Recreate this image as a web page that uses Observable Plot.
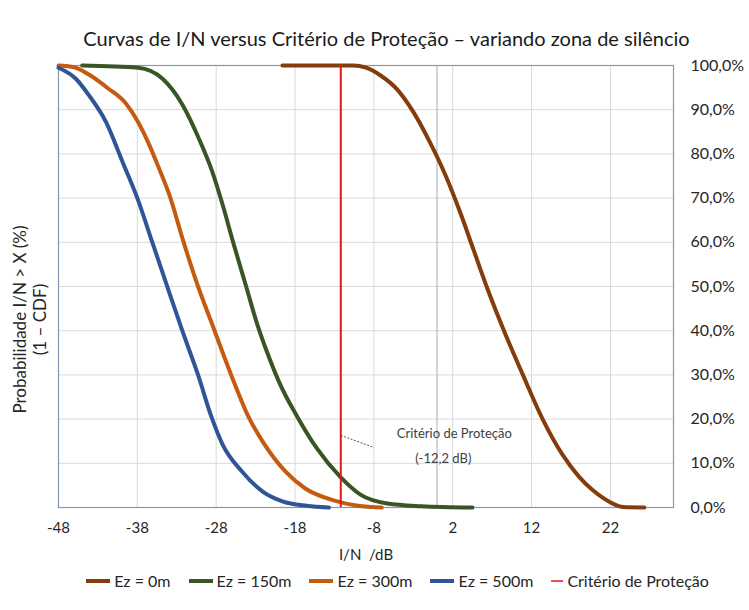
<!DOCTYPE html>
<html>
<head>
<meta charset="utf-8">
<script src="https://cdn.jsdelivr.net/npm/d3@7"></script>
<script src="https://cdn.jsdelivr.net/npm/@observablehq/plot@0.6"></script>
<style>
  body { margin: 0; background: #fff; }
  #wrap { position: relative; width: 749px; height: 610px; font-family: Lato, "Liberation Sans", sans-serif; color: #262626; }
  #title { position: absolute; left: 0; top: 26px; width: 749px; padding-left: 24px; box-sizing: border-box; text-align: center; font-size: 20px; color: #1a1a1a; white-space: nowrap; }
  #legend { position: absolute; left: 0; top: 571px; width: 749px; padding-left: 44px; box-sizing: border-box; display: flex; justify-content: center; align-items: center; gap: 16px; font-size: 16px; color: #262626; white-space: nowrap; }
  .item { display: flex; align-items: center; gap: 2px; }
  #chart { position: absolute; left: 0; top: 0; }
</style>
</head>
<body>
<div id="wrap">
  <div id="chart"></div>
  <div id="title">Curvas de I/N versus Critério de Proteção – variando zona de silêncio</div>
  <div id="legend"></div>
</div>
<script>
// Series names and colours
const seriesNames = ["Ez = 0m", "Ez = 150m", "Ez = 300m", "Ez = 500m"];
const seriesColors = ["#843c0c", "#375623", "#c55a11", "#2f5597"];

// Ez = 0m : [I/N dB, probability %]
const ez0 = [[-19.6,100],[-10.6,100],[-9.0,99.5],[-7.2,97.8],[-5.0,94.5],[-3.0,89.5],[-1.0,83],[1.0,75.5],[3.0,66.5],[4.7,58],[6.4,49.5],[8.5,40],[10.9,30],[13.4,20],[15.9,12],[18.0,7],[19.7,4],[21.2,2],[22.5,0.7],[23.6,0.1],[26.3,0]];
// Ez = 150m
const ez150 = [[-45,100],[-37.9,99.5],[-34.8,97],[-32.3,91.2],[-30.2,83.5],[-28.5,76],[-27.2,68.6],[-25.8,59.7],[-24.2,50],[-22.8,41.5],[-21.3,34],[-19.8,27.5],[-17.7,20.5],[-15.2,13.3],[-12.2,6.8],[-9.7,2.9],[-6.3,0.9],[-2,0.3],[4.5,0]];
// Ez = 300m
const ez300 = [[-48,100],[-46,99.6],[-44.2,98],[-41.7,94.8],[-39.5,91.5],[-38.0,87.5],[-36.6,82.5],[-35.2,76.5],[-33.8,70],[-32.3,61],[-30.3,50],[-28.5,41.4],[-26.1,30],[-23.9,20.5],[-22.1,14.9],[-19.2,8.1],[-16.7,4.3],[-13.1,1.6],[-10,0.4],[-7,0]];
// Ez = 500m
const ez500 = [[-48,99.5],[-45.8,97],[-44.2,93.4],[-42.0,87.3],[-39.9,78.3],[-38.0,70],[-36.1,60],[-34.3,50.5],[-32.3,40],[-30.3,30],[-28.6,20.5],[-27.2,14.3],[-24.7,8.1],[-22.1,3.6],[-19.6,1.4],[-16.5,0.4],[-13.7,0]];

// Protection criterion
const criterion = -12.2;
const criterionLabel = "Critério de Proteção";
const annotationLines = ["Critério de Proteção", "(-12,2 dB)"];
const annotationX = [2.2, 0.8];
const annotationY = [16.7, 11.1];
const leaderX = [-12.2, -8.0];
const leaderY = [16.3, 13.6];

// Axes
const xTicks = [-48, -38, -28, -18, -8, 2, 12, 22];
const xDomain = [-48, 30];
const yTicks = [0, 10, 20, 30, 40, 50, 60, 70, 80, 90, 100];
const xLabel = "I/N\u00a0 /dB";
const yLabelLines = ["Probabilidade I/N > X (%)", "(1 – CDF)"];
const zeroAxis = [0];

const allSeries = [ez0, ez150, ez300, ez500];
const rows = allSeries.flatMap((arr, i) => arr.map(([x, y]) => ({series: seriesNames[i], x, y})));
const annots = annotationLines.map((t, i) => ({t, x: annotationX[i], y: annotationY[i]}));
const leader = [{x1: leaderX[0], y1: leaderY[0], x2: leaderX[1], y2: leaderY[1]}];

const fontFam = "Lato, 'Liberation Sans', sans-serif";

const chart = Plot.plot({
  width: 749,
  height: 610,
  marginLeft: 58,
  marginRight: 76,
  marginTop: 65,
  marginBottom: 103,
  style: {fontFamily: fontFam, fontSize: "15px", color: "#262626", background: "#fff"},
  x: {domain: xDomain},
  y: {domain: [0, 100]},
  color: {domain: seriesNames, range: seriesColors},
  marks: [
    Plot.gridX(xTicks, {stroke: "#d9d9d9", strokeOpacity: 1}),
    Plot.gridY(yTicks, {stroke: "#d9d9d9", strokeOpacity: 1}),
    Plot.ruleX(zeroAxis, {stroke: "#bfbfbf", strokeWidth: 1.3}),
    Plot.frame({stroke: "#8497b0", strokeWidth: 1.2}),
    Plot.line(rows, {x: "x", y: "y", z: "series", stroke: "series", strokeWidth: 4, curve: "monotone-x", strokeLinejoin: "round", strokeLinecap: "round"}),
    Plot.ruleX([criterion], {stroke: "#e3161b", strokeWidth: 2}),
    Plot.link(leader, {x1: "x1", y1: "y1", x2: "x2", y2: "y2", stroke: "#555", strokeWidth: 1, strokeDasharray: "2,1.5"}),
    Plot.text(annots, {x: "x", y: "y", text: "t", fontSize: 13, fill: "#404040", textAnchor: "middle"}),
    Plot.axisX({ticks: xTicks, tickSize: 0, tickPadding: 15, fontSize: 15, tickFormat: d => String(d), label: xLabel, labelAnchor: "center", labelOffset: 52, labelArrow: "none"}),
    Plot.axisY({anchor: "right", ticks: yTicks, tickSize: 0, tickPadding: 17, fontSize: 16, tickFormat: d => d.toFixed(1).replace(".", ",") + "%", label: null}),
    Plot.text([yLabelLines[0]], {frameAnchor: "left", rotate: -90, dx: -38, dy: 33, fontSize: 17, fill: "#262626", textAnchor: "middle", lineAnchor: "middle"}),
    Plot.text([yLabelLines[1]], {frameAnchor: "left", rotate: -90, dx: -18, dy: 33, fontSize: 17, fill: "#262626", textAnchor: "middle", lineAnchor: "middle"})
  ]
});
document.getElementById("chart").appendChild(chart);

// Legend
const legend = document.getElementById("legend");
const items = seriesNames.map((n, i) => ({name: n, color: seriesColors[i], w: 24, sw: 4}));
items.push({name: criterionLabel, color: "#e3161b", w: 12, sw: 1.5});
for (const it of items) {
  const d = document.createElement("div");
  d.className = "item";
  d.innerHTML = `<svg width="${it.w + 4}" height="12"><line x1="2" x2="${it.w + 2}" y1="6" y2="6" stroke="${it.color}" stroke-width="${it.sw}"/></svg><span>${it.name}</span>`;
  legend.appendChild(d);
}
</script>
</body>
</html>
